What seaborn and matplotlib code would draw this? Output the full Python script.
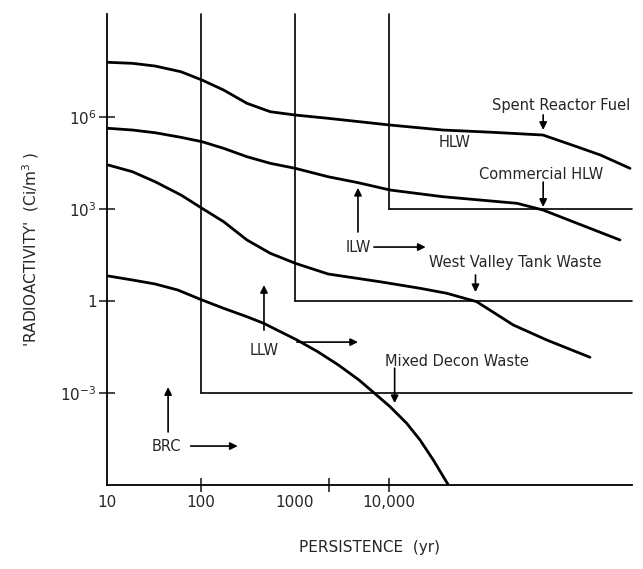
import numpy as np
import pandas as pd
import matplotlib
matplotlib.use("Agg")
import matplotlib.pyplot as plt
import seaborn as sns

# ---- data (log10 of persistence in yr, log10 of radioactivity in Ci/m^3) ----
fuel_logx = [1.013, 1.271, 1.512, 1.787, 2.011, 2.241, 2.489, 2.737, 3.003, 3.352,
             4.011, 4.574, 5.106, 5.638, 6.0, 6.25, 6.564]
fuel_logy = [7.784, 7.751, 7.663, 7.477, 7.206, 6.88, 6.447, 6.173, 6.065, 5.958,
             5.739, 5.576, 5.501, 5.413, 5.03, 4.76, 4.327]

chlw_logx = [1.013, 1.271, 1.512, 1.787, 2.011, 2.241, 2.489, 2.737, 3.003, 3.352,
             3.67, 4.011, 4.574, 5.362, 5.638, 6.457]
chlw_logy = [5.632, 5.576, 5.488, 5.338, 5.195, 4.979, 4.706, 4.49, 4.327, 4.053,
             3.86, 3.62, 3.401, 3.186, 2.968, 1.99]

wv_logx = [1.013, 1.271, 1.512, 1.787, 2.011, 2.241, 2.489, 2.737, 3.003, 3.352,
           3.901, 4.33, 4.614, 4.933, 5.322, 5.678, 6.138]
wv_logy = [4.435, 4.216, 3.89, 3.457, 3.023, 2.586, 1.99, 1.556, 1.23, 0.881,
           0.63, 0.415, 0.252, -0.022, -0.782, -1.271, -1.835]

mdw_logx = [1.013, 1.271, 1.512, 1.753, 2.011, 2.241, 2.489, 2.667, 2.809, 3.022,
            3.242, 3.462, 3.681, 3.846, 4.011, 4.188, 4.33, 4.471, 4.578, 4.631]
mdw_logy = [0.816, 0.685, 0.555, 0.359, 0.033, -0.238, -0.512, -0.727, -0.946, -1.272,
            -1.653, -2.087, -2.576, -3.009, -3.446, -3.987, -4.532, -5.184, -5.728, -5.999]

# class boundaries: (min persistence, min radioactivity)
bound_x = [100, 1000, 10000]
bound_y = [1e-3, 1, 1e3]

ytick_vals = [1e6, 1e3, 1, 1e-3]
ytick_labels = [r"10$^{6}$", r"10$^{3}$", "1", r"10$^{-3}$"]
xlabel_vals = [10, 100, 1000, 10000]
xlabel_text = ["10", "100", "1000", "10,000"]
xtick_marks = [100, 2300, 10000]

frames = []
for name, lx, ly in [("fuel", fuel_logx, fuel_logy), ("chlw", chlw_logx, chlw_logy),
                     ("wv", wv_logx, wv_logy), ("mdw", mdw_logx, mdw_logy)]:
    frames.append(pd.DataFrame({"x": np.power(10.0, lx), "y": np.power(10.0, ly), "curve": name}))
df = pd.concat(frames, ignore_index=True)

sns.set_style("white")
plt.rcParams["font.family"] = ["DejaVu Sans"]

fig = plt.figure(figsize=(6.43, 5.69), dpi=100)
ax = fig.add_axes([107/643, 1-485/569, (632-107)/643, (485-14)/569])

XMAX = 10**6.585
YMIN, YMAX = 1e-6, 10**9.36

sns.lineplot(data=df, x="x", y="y", units="curve", estimator=None, sort=False,
             color="black", lw=2.0, ax=ax, solid_joinstyle="round", solid_capstyle="round")
ax.set_xscale("log")
ax.set_yscale("log")
ax.set_xlim(10, XMAX)
ax.set_ylim(YMIN, YMAX)

# boundary lines
for bx, by in zip(bound_x, bound_y):
    ax.plot([bx, bx], [by, YMAX], color="black", lw=1.2, clip_on=False)
    ax.plot([bx, XMAX], [by, by], color="black", lw=1.2, clip_on=False)

for s in ["top", "right"]:
    ax.spines[s].set_visible(False)
for s in ["left", "bottom"]:
    ax.spines[s].set_color("black")
    ax.spines[s].set_linewidth(1.3)

ax.set_yticks(ytick_vals)
ax.set_yticklabels(ytick_labels, fontsize=11)
ax.yaxis.set_minor_locator(matplotlib.ticker.NullLocator())
ax.tick_params(axis="y", which="major", direction="inout", length=11, width=1.2, pad=2, left=True)

# x tick marks (unlabelled) and x tick labels placed under the axis
ax.set_xticks(xtick_marks)
ax.set_xticklabels([])
ax.xaxis.set_minor_locator(matplotlib.ticker.NullLocator())
ax.tick_params(axis="x", which="major", direction="inout", length=10, width=1.2, bottom=True)
for xv, xt in zip(xlabel_vals, xlabel_text):
    ax.text(xv, -0.022, xt, transform=ax.get_xaxis_transform(), ha="center", va="top",
            fontsize=11, color="#262626")

ax.set_xlabel("PERSISTENCE  (yr)", fontsize=11, labelpad=31)
ax.set_ylabel("'RADIOACTIVITY'  (Ci/m$^{3}$ )", fontsize=11, labelpad=14)

fs = 10.5
ap = dict(arrowstyle="-|>", color="black", lw=1.2, mutation_scale=11, shrinkA=0, shrinkB=0)
L = lambda v: 10.0 ** v

ax.text(L(5.83), L(6.39), "Spent Reactor Fuel", ha="center", va="center", fontsize=fs)
ax.annotate("", xy=(L(5.64), L(5.58)), xytext=(L(5.64), L(6.07)), arrowprops=ap)
ax.text(L(4.70), L(5.18), "HLW", ha="center", va="center", fontsize=fs)

ax.text(L(5.62), L(4.14), "Commercial HLW", ha="center", va="center", fontsize=fs)
ax.annotate("", xy=(L(5.64), L(3.07)), xytext=(L(5.64), L(3.88)), arrowprops=ap)

ax.annotate("", xy=(L(3.67), L(3.69)), xytext=(L(3.67), L(2.25)), arrowprops=ap)
ax.text(L(3.67), L(1.76), "ILW", ha="center", va="center", fontsize=fs)
ax.annotate("", xy=(L(4.39), L(1.76)), xytext=(L(3.84), L(1.76)), arrowprops=ap)

ax.text(L(5.34), L(1.27), "West Valley Tank Waste", ha="center", va="center", fontsize=fs)
ax.annotate("", xy=(L(4.92), L(0.29)), xytext=(L(4.92), L(0.85)), arrowprops=ap)

ax.annotate("", xy=(L(2.67), L(0.52)), xytext=(L(2.67), L(-0.95)), arrowprops=ap)
ax.text(L(2.67), L(-1.6), "LLW", ha="center", va="center", fontsize=fs)
ax.annotate("", xy=(L(3.67), L(-1.34)), xytext=(L(3.02), L(-1.34)), arrowprops=ap)

ax.text(L(4.72), L(-1.97), "Mixed Decon Waste", ha="center", va="center", fontsize=fs)
ax.annotate("", xy=(L(4.06), L(-3.33)), xytext=(L(4.06), L(-2.19)), arrowprops=ap)

ax.annotate("", xy=(L(1.65), L(-2.81)), xytext=(L(1.65), L(-4.27)), arrowprops=ap)
ax.text(L(1.63), L(-4.76), "BRC", ha="center", va="center", fontsize=fs)
ax.annotate("", xy=(L(2.39), L(-4.73)), xytext=(L(1.89), L(-4.73)), arrowprops=ap)

fig.savefig("out.png", dpi=100)
